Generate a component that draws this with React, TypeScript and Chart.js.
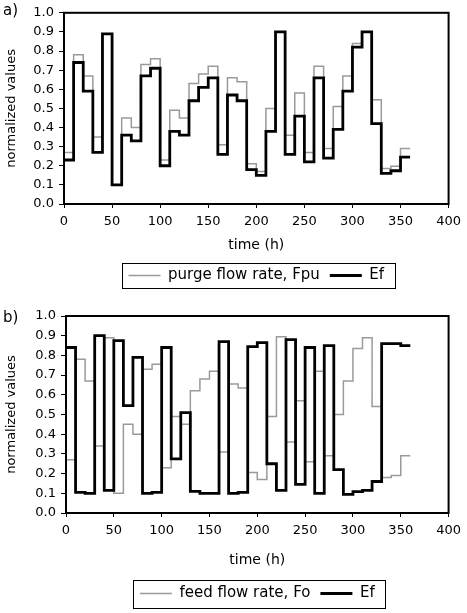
import React, { useEffect, useRef } from "react";
import { Chart, registerables } from "chart.js";

Chart.register(...registerables);

const times = [0, 10, 20, 30, 40, 50, 60, 70, 80, 90, 100, 110, 120, 130, 140, 150, 160, 170, 180, 190, 200, 210, 220, 230, 240, 250, 260, 270, 280, 290, 300, 310, 320, 330, 340, 350, 360];

const purgeFlow = [0.27, 0.78, 0.67, 0.35, 0.89, 0.10, 0.45, 0.40, 0.73, 0.76, 0.23, 0.49, 0.45, 0.63, 0.68, 0.72, 0.31, 0.66, 0.64, 0.21, 0.17, 0.50, 0.90, 0.36, 0.58, 0.27, 0.72, 0.29, 0.51, 0.67, 0.84, 0.90, 0.545, 0.186, 0.198, 0.29];
const efA = [0.23, 0.74, 0.59, 0.27, 0.89, 0.10, 0.36, 0.33, 0.67, 0.71, 0.20, 0.38, 0.36, 0.54, 0.61, 0.66, 0.26, 0.57, 0.54, 0.18, 0.15, 0.38, 0.90, 0.26, 0.46, 0.22, 0.66, 0.24, 0.39, 0.59, 0.82, 0.90, 0.42, 0.16, 0.174, 0.245];

const feedFlow = [0.27, 0.78, 0.67, 0.34, 0.89, 0.10, 0.45, 0.40, 0.73, 0.755, 0.23, 0.49, 0.45, 0.62, 0.68, 0.72, 0.31, 0.655, 0.634, 0.206, 0.17, 0.49, 0.895, 0.36, 0.57, 0.26, 0.72, 0.29, 0.50, 0.67, 0.835, 0.89, 0.54, 0.18, 0.19, 0.29];
const efB = [0.84, 0.105, 0.10, 0.90, 0.115, 0.875, 0.545, 0.79, 0.10, 0.105, 0.84, 0.275, 0.51, 0.11, 0.10, 0.10, 0.87, 0.10, 0.105, 0.845, 0.865, 0.25, 0.115, 0.88, 0.145, 0.84, 0.10, 0.85, 0.22, 0.095, 0.108, 0.115, 0.16, 0.86, 0.86, 0.85];

const xTicks = [0, 50, 100, 150, 200, 250, 300, 350, 400];
const yTicks = [0.0, 0.1, 0.2, 0.3, 0.4, 0.5, 0.6, 0.7, 0.8, 0.9, 1.0];

const FONT = "'DejaVu Sans', sans-serif";

function toSteps(vals: number[]) {
  return times.map((t, i) => ({ x: t, y: vals[Math.min(i, vals.length - 1)] }));
}

type PanelProps = {
  label: string;
  grayName: string;
  gray: number[];
  ef: number[];
  width: number;
  height: number;
  top: number;
  padTop: number;
  yWidth: number;
  xHeight: number;
  titlePad: number;
  padBottom: number;
  boxHalf: number;
  labelY: number;
};

function Panel(p: PanelProps) {
  const ref = useRef<HTMLCanvasElement | null>(null);
  useEffect(() => {
    if (!ref.current) return;
    const deco = {
      id: "deco",
      afterDraw(chart: any) {
        const ctx = chart.ctx;
        const a = chart.chartArea;
        ctx.save();
        ctx.strokeStyle = "#000";
        ctx.lineWidth = 2;
        ctx.strokeRect(a.left, a.top, a.right - a.left, a.bottom - a.top);
        // panel label
        ctx.fillStyle = "#000";
        ctx.font = "15px " + FONT;
        ctx.textBaseline = "alphabetic";
        ctx.textAlign = "left";
        ctx.fillText(p.label, 3, p.labelY);
        // legend frame
        const hb = chart.legend && chart.legend.legendHitBoxes;
        if (hb && hb.length) {
          let l = Infinity, r = -Infinity, cy = 0;
          hb.forEach((h: any) => {
            l = Math.min(l, h.left);
            r = Math.max(r, h.left + h.width);
            cy = h.top + h.height / 2;
          });
          ctx.lineWidth = 1;
          ctx.strokeStyle = "#000";
          ctx.strokeRect(Math.round(l - 7) + 0.5, Math.round(cy - p.boxHalf) + 0.5, Math.round(r - l + 17), Math.round(p.boxHalf * 2));
        }
        ctx.restore();
      },
    };
    const chart = new Chart(ref.current, {
      type: "line",
      data: {
        datasets: [
          {
            label: p.grayName,
            data: toSteps(p.gray),
            borderColor: "#9a9a9a",
            borderWidth: 1.5,
            stepped: true,
            pointRadius: 0,
            fill: false,
            order: 1,
          },
          {
            label: "Ef",
            data: toSteps(p.ef),
            borderColor: "#000",
            borderWidth: 2.8,
            stepped: true,
            pointRadius: 0,
            fill: false,
            order: 0,
          },
        ],
      },
      options: {
        animation: false,
        responsive: false,
        maintainAspectRatio: false,
        layout: { padding: { top: p.padTop, right: 18, left: 0, bottom: p.padBottom } },
        plugins: {
          tooltip: { enabled: false },
          legend: {
            position: "bottom",
            fullSize: false,
            labels: {
              usePointStyle: true,
              pointStyle: "line",
              pointStyleWidth: 32,
              boxWidth: 32,
              padding: 10,
              color: "#000",
              font: { family: FONT, size: 15 },
              sort: (a: any, b: any) => a.datasetIndex - b.datasetIndex,
            },
          },
        },
        scales: {
          x: {
            type: "linear",
            min: 0,
            max: 400,
            afterBuildTicks: (s: any) => {
              s.ticks = xTicks.map((v) => ({ value: v }));
            },
            afterFit: (s: any) => {
              s.height = p.xHeight;
            },
            ticks: {
              autoSkip: false,
              maxRotation: 0,
              color: "#000",
              padding: 6,
              font: { family: FONT, size: 13 },
            },
            grid: { drawOnChartArea: false, drawTicks: true, tickLength: 4, color: "#000" },
            border: { display: false },
            title: {
              display: true,
              text: "time (h)",
              color: "#000",
              font: { family: FONT, size: 14 },
              padding: { top: 0, bottom: p.titlePad },
            },
          },
          y: {
            type: "linear",
            min: 0,
            max: 1,
            afterBuildTicks: (s: any) => {
              s.ticks = yTicks.map((v) => ({ value: v }));
            },
            afterFit: (s: any) => {
              s.width = p.yWidth;
            },
            ticks: {
              color: "#000",
              padding: 5,
              font: { family: FONT, size: 13 },
              callback: (v: any) => Number(v).toFixed(1),
            },
            grid: { drawOnChartArea: false, drawTicks: true, tickLength: 5, color: "#000" },
            border: { display: false },
            title: {
              display: true,
              text: "normalized values",
              color: "#000",
              font: { family: FONT, size: 13 },
              padding: { top: 4, bottom: 4 },
            },
          },
        },
      },
      plugins: [deco],
    } as any);
    return () => chart.destroy();
  }, []);
  return (
    <canvas
      ref={ref}
      width={p.width}
      height={p.height}
      style={{ position: "absolute", left: 0, top: p.top, width: p.width, height: p.height }}
    />
  );
}

export default function App() {
  return (
    <div style={{ position: "absolute", left: 0, top: 0, width: 467, height: 613, background: "#fff" }}>
      <Panel
        label="a)"
        grayName="purge flow rate, Fpu"
        gray={purgeFlow}
        ef={efA}
        width={467}
        height={300}
        top={0}
        padTop={10}
        yWidth={64}
        xHeight={54}
        titlePad={4}
        padBottom={7}
        boxHalf={12.5}
        labelY={15}
      />
      <Panel
        label="b)"
        grayName="feed flow rate, Fo"
        gray={feedFlow}
        ef={efB}
        width={467}
        height={313}
        top={300}
        padTop={16}
        yWidth={66}
        xHeight={63}
        titlePad={7}
        padBottom={2}
        boxHalf={14}
        labelY={22}
      />
    </div>
  );
}
